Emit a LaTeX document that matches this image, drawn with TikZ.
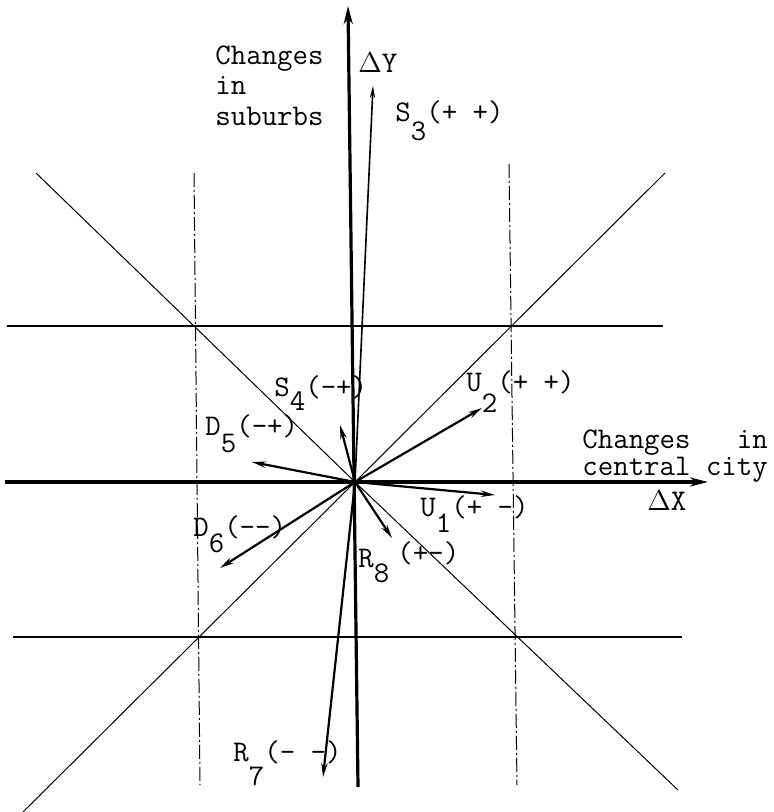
\documentclass[tikz,border=0pt]{standalone}
\usetikzlibrary{arrows.meta}
\begin{document}
\begin{tikzpicture}[x=0.5pt,y=-0.5pt,
  lbl/.style={font=\ttfamily\fontsize{15}{15.3}\selectfont, inner sep=0pt, anchor=base west},
  axisline/.style={line width=1.6pt},
  gridline/.style={line width=0.9pt},
  diagline/.style={line width=0.5pt},
  guideline/.style={line width=0.5pt, dash pattern=on 7pt off 1.5pt on 1pt off 1.5pt},
  vec/.style={line width=1.1pt, -{Stealth[length=7pt,width=3.2pt]}},
  thinvec/.style={line width=0.8pt, -{Stealth[length=6pt,width=2.6pt]}},
]
\fill[white] (0,0) rectangle (773,812);
\useasboundingbox (0,0) rectangle (773,812);
\newcommand{\vlab}[4]{#1\raisebox{-#4}{#2}#3}

% origin and end points
\coordinate (O) at (355,482);
\coordinate (ytop) at (348,6);
\coordinate (ybot) at (358,787);
\coordinate (xl) at (5,482);
\coordinate (xr) at (708,482);
\coordinate (h1l) at (7,326);
\coordinate (h1r) at (663,326);
\coordinate (h2l) at (13,637);
\coordinate (h2r) at (682,637);
\coordinate (v1t) at (194,173);
\coordinate (v1b) at (200,785);
\coordinate (v2t) at (509,164);
\coordinate (v2b) at (517,785);
\coordinate (dtl) at (36,173);
\coordinate (dbr) at (678,790);
\coordinate (dtr) at (665,173);
\coordinate (dbl) at (23,812);

\coordinate (s3) at (373,86);
\coordinate (s4) at (340,425);
\coordinate (u2) at (482,408);
\coordinate (d5) at (252,462);
\coordinate (u1) at (495,495);
\coordinate (d6) at (220,568);
\coordinate (r8) at (392,538);
\coordinate (r7) at (323,777);

% grid
\draw[gridline] (h1l) -- (h1r);
\draw[gridline] (h2l) -- (h2r);
\draw[guideline] (v1t) -- (v1b);
\draw[guideline] (v2t) -- (v2b);
\draw[diagline] (dtl) -- (O) -- (dbr);
\draw[diagline] (dtr) -- (O) -- (dbl);

% axes
\draw[axisline, -{Stealth[length=9pt,width=4.5pt]}] (ybot) -- (ytop);
\draw[axisline, -{Stealth[length=9pt,width=4.5pt]}] (xl) -- (xr);

% vectors
\draw[thinvec] (O) -- (s3);
\draw[vec] (O) -- (s4);
\draw[vec] (O) -- (u2);
\draw[vec] (O) -- (d5);
\draw[vec] (O) -- (u1);
\draw[vec] (O) -- (d6);
\draw[vec] (O) -- (r8);
\draw[vec] (O) -- (r7);

% labels
\node[lbl, anchor=north west, align=left] (ylabel) at (215,45) {Changes\\in\\suburbs};
\node[lbl] (dy) at (358,73) {$\Delta$Y};
\node[lbl, anchor=north west, align=left, font=\ttfamily\fontsize{15}{9}\selectfont] (xlabel) at (582,429) {Changes\ \ \ in\\central city};
\node[lbl] (dx) at (647,510) {$\Delta$X};

\node[lbl] (ls3) at (395,122) {\vlab{S}{3}{(+ +)}{9.5pt}};
\node[lbl] (ls4) at (274,396) {\vlab{S}{4}{(-+)}{7pt}};
\node[lbl] (ld5) at (205,435) {\vlab{D}{5}{(-+)}{8.5pt}};
\node[lbl] (lu2) at (466,391) {\vlab{U}{2}{(+ +)}{10.5pt}};
\node[lbl] (lu1) at (420,516) {\vlab{U}{1}{(+ -)}{8pt}};
\node[lbl] (ld6) at (193,536) {\vlab{D}{6}{(-{}-)}{8pt}};
\node[lbl] (lr8) at (358,567) {\vlab{R}{8}{}{7.5pt}};
\node[lbl] (lr8b) at (397,562) {(+-)};
\node[lbl] (lr7) at (233,761) {\vlab{R}{7}{(- -)}{12pt}};
\end{tikzpicture}
\end{document}
